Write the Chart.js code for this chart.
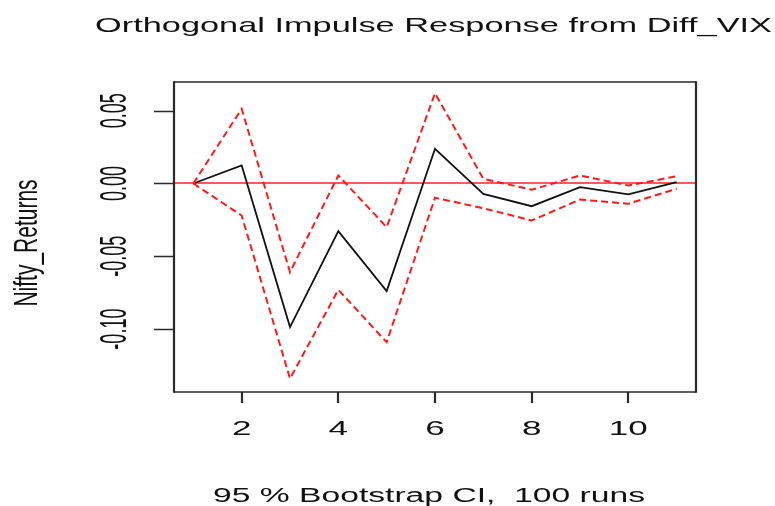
<!DOCTYPE html>
<html>
<head>
<meta charset="utf-8">
<script src="https://cdn.jsdelivr.net/npm/chart.js@4/dist/chart.umd.min.js"></script>
<style>
html,body{margin:0;padding:0;background:#fff;}
#wrap{width:775px;height:506px;position:relative;}
canvas{display:block;}
</style>
</head>
<body>
<div id="wrap"><canvas id="c" width="775" height="506"></canvas></div>
<script>
// ---- data ----
const horizons = [1, 2, 3, 4, 5, 6, 7, 8, 9, 10, 11];
const irfValues = [0, 0.0124, -0.0986, -0.0327, -0.0739, 0.0238, -0.0071, -0.0156, -0.0025, -0.0075, 0.0009];
const upperCI = [0, 0.0513, -0.0609, 0.0055, -0.0300, 0.0620, 0.0032, -0.0043, 0.0055, -0.0014, 0.0050];
const lowerCI = [0, -0.0220, -0.1340, -0.0730, -0.1090, -0.0098, -0.0170, -0.0254, -0.0110, -0.0139, -0.0036];
const xTickValues = [2, 4, 6, 8, 10];
const xTickLabels = ['2', '4', '6', '8', '10'];
const yTickValues = [0.05, 0, -0.05, -0.10];
const yTickLabels = ['0.05', '0.00', '-0.05', '-0.10'];
const titleText = 'Orthogonal Impulse Response from Diff_VIX';
const xAxisText = '95 % Bootstrap CI,  100 runs';
const yAxisText = 'Nifty_Returns';

const FONT = '"Liberation Sans", Arial, sans-serif';

function pts(ys){ return horizons.map((x,i)=>({x:x, y:ys[i]})); }

function drawStretched(ctx, text, x, y, opts){
  ctx.save();
  ctx.font = opts.size + 'px ' + FONT;
  ctx.fillStyle = '#111';
  ctx.textAlign = 'center';
  ctx.textBaseline = 'alphabetic';
  ctx.translate(x, y);
  if (opts.rotate) ctx.rotate(-Math.PI/2);
  let sx = opts.sx || 1;
  if (opts.targetW) sx = opts.targetW / ctx.measureText(text).width;
  ctx.scale(sx, opts.sy || 1);
  ctx.fillText(text, 0, 0);
  ctx.restore();
}

const rPlot = {
  id: 'rplot',
  beforeDatasetsDraw(chart){
    const ctx = chart.ctx, a = chart.chartArea, ys = chart.scales.y;
    const y0 = Math.round(ys.getPixelForValue(0));
    ctx.save();
    ctx.strokeStyle = '#ff2020';
    ctx.lineWidth = 1.5;
    ctx.beginPath();
    ctx.moveTo(a.left, y0); ctx.lineTo(a.right, y0);
    ctx.stroke();
    ctx.restore();
  },
  afterDraw(chart){
    const ctx = chart.ctx, a = chart.chartArea;
    const xs = chart.scales.x, ys = chart.scales.y;
    ctx.save();
    ctx.strokeStyle = '#2a2a2a';
    ctx.lineWidth = 1.5;
    ctx.beginPath();
    ctx.moveTo(a.left, a.top); ctx.lineTo(a.right, a.top);
    ctx.moveTo(a.left, a.bottom); ctx.lineTo(a.right, a.bottom);
    ctx.stroke();
    ctx.lineWidth = 2.2;
    ctx.beginPath();
    ctx.moveTo(a.left, a.top - 0.75); ctx.lineTo(a.left, a.bottom + 0.75);
    ctx.moveTo(a.right, a.top - 0.75); ctx.lineTo(a.right, a.bottom + 0.75);
    ctx.stroke();
    ctx.lineWidth = 2.2;
    ctx.beginPath();
    xTickValues.forEach(v => {
      const px = Math.round(xs.getPixelForValue(v));
      ctx.moveTo(px, a.bottom); ctx.lineTo(px, a.bottom + 11);
    });
    ctx.stroke();
    ctx.lineWidth = 1.4;
    ctx.beginPath();
    yTickValues.forEach(v => {
      const py = Math.round(ys.getPixelForValue(v)) + 0.5;
      ctx.moveTo(a.left, py); ctx.lineTo(a.left - 20, py);
    });
    ctx.stroke();
    ctx.restore();

    xTickValues.forEach((v,i) => {
      drawStretched(ctx, xTickLabels[i], xs.getPixelForValue(v), 435, {size: 20, sx: 1.75});
    });
    yTickValues.forEach((v,i) => {
      drawStretched(ctx, yTickLabels[i], 126, ys.getPixelForValue(v), {size: 19, rotate: true, sx: 0.95, sy: 1.9});
    });
    drawStretched(ctx, titleText, 433.5, 32, {size: 21, targetW: 677});
    drawStretched(ctx, xAxisText, 429, 502, {size: 19.5, targetW: 432});
    drawStretched(ctx, yAxisText, 37, 243, {size: 21, rotate: true, sx: 1.0, sy: 1.6});
  }
};

new Chart(document.getElementById('c'), {
  type: 'line',
  data: {
    datasets: [
      { label: 'upper', data: pts(upperCI), borderColor: '#ff1a1a', borderWidth: 2, borderDash: [7, 4], pointRadius: 0, tension: 0, fill: false },
      { label: 'lower', data: pts(lowerCI), borderColor: '#ff1a1a', borderWidth: 2, borderDash: [7, 4], pointRadius: 0, tension: 0, fill: false },
      { label: 'irf', data: pts(irfValues), borderColor: '#111111', borderWidth: 1.8, pointRadius: 0, tension: 0, fill: false }
    ]
  },
  options: {
    responsive: false,
    animation: false,
    devicePixelRatio: 1,
    layout: { padding: { top: 82, right: 79, left: 0, bottom: 0 } },
    plugins: { legend: { display: false }, tooltip: { enabled: false }, title: { display: false } },
    scales: {
      x: {
        type: 'linear', min: 0.6, max: 11.4,
        grid: { display: false }, border: { display: false },
        ticks: { display: false },
        afterFit(s){ s.height = 114; }
      },
      y: {
        type: 'linear', min: -0.1432, max: 0.0697,
        grid: { display: false }, border: { display: false },
        ticks: { display: false },
        afterFit(s){ s.width = 174; }
      }
    }
  },
  plugins: [rPlot]
});
</script>
</body>
</html>
